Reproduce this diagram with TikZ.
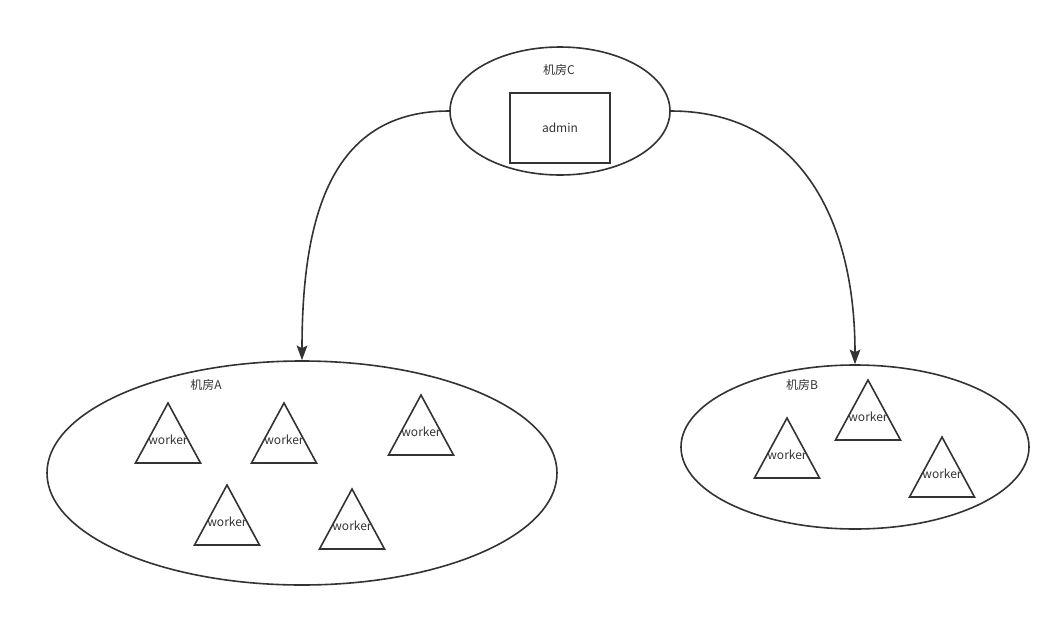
\documentclass[tikz,border=0pt]{standalone}
\usepackage{fontspec}
\setmainfont{Noto Sans CJK SC}
\usetikzlibrary{shapes.geometric,arrows.meta}
\definecolor{ink}{HTML}{333333}
\tikzset{
  room/.style={draw=ink, line width=1.2pt, ellipse, inner sep=0pt},
  box/.style={draw=ink, line width=1.2pt, inner sep=0pt},
  lbl/.style={font=\fontsize{9}{10}\selectfont, text=ink, inner sep=0pt},
  link/.style={draw=ink, line width=1.2pt, -{Stealth[length=11pt,width=8pt,inset=2pt]}},
  pics/worker/.style={code={
    \draw[draw=ink, line width=1.2pt, line join=miter] (0,0) -- (32.5,60) -- (-32.5,60) -- cycle;
    \node[lbl] at (0,37) {worker};
  }}
}
\begin{document}
\begin{tikzpicture}[x=0.75pt, y=-0.75pt]
\useasboundingbox (0,0) rectangle (1061,618);

% data centres
\node[room, minimum width=165pt, minimum height=96pt] (c) at (560,111) {};
\node[room, minimum width=382.5pt, minimum height=168pt] (a) at (302,473) {};
\node[room, minimum width=261pt, minimum height=123pt] (b) at (855,447) {};

\node[lbl] (lc) at (559,70) {机房C};
\node[lbl] (la) at (206,385) {机房A};
\node[lbl] (lb) at (802,385) {机房B};

% admin server
\node[box, minimum width=75pt, minimum height=52.5pt] (adm) at (560,128) {};
\node[lbl] at (adm) {admin};

% workers in A
\pic at (168,403) {worker};
\pic at (284,403) {worker};
\pic at (421,395) {worker};
\pic at (227,485) {worker};
\pic at (352,489) {worker};

% workers in B
\pic at (787,418) {worker};
\pic at (868,380) {worker};
\pic at (942,437) {worker};

% dispatch links
\draw[link] (c.west) .. controls +(-115,0) and +(0,-150) .. (a.north);
\draw[link] (c.east) .. controls +(125,0) and +(0,-150) .. (b.north);
\end{tikzpicture}
\end{document}
